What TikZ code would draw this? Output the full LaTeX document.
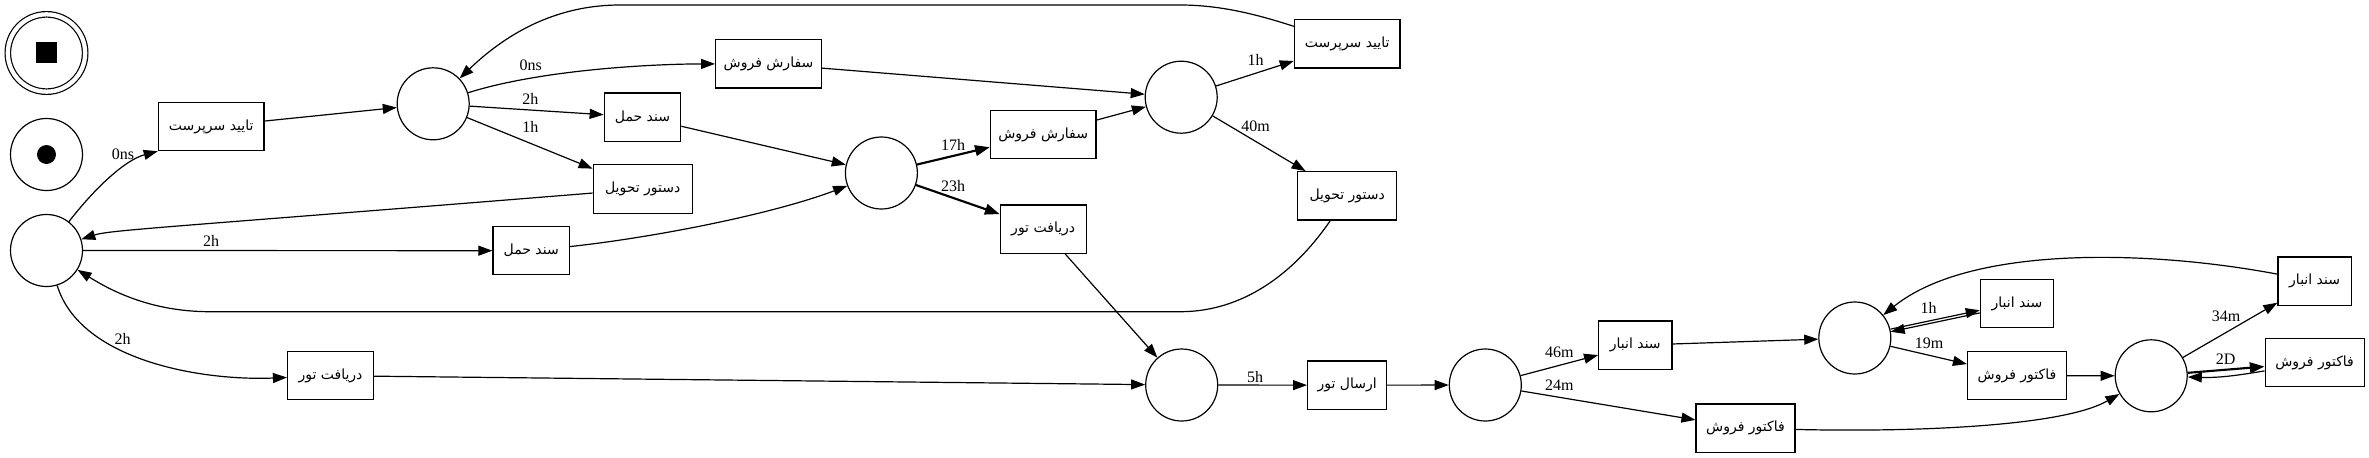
\documentclass[tikz,border=0pt]{standalone}
\usepackage{fontspec}
\setmainfont{Liberation Serif}
\newfontfamily\fa[Script=Arabic]{DejaVu Sans}
\TeXXeTstate=1
\usetikzlibrary{arrows.meta}
\newcommand\ptxt[1]{{\fa\fontsize{10.5pt}{12pt}\selectfont\beginR #1\endR}}
\begin{document}
\begin{tikzpicture}[x=0.75pt,y=-0.75pt,
  place/.style={circle, draw, line width=0.9pt, minimum size=54pt, inner sep=0pt},
  trans/.style={rectangle, draw, line width=0.9pt, minimum height=36.2pt, inner sep=0pt},
  arr/.style={-{Triangle[length=10.5pt,width=7.5pt]}, line width=0.9pt},
  heavy/.style={-{Triangle[length=11pt,width=8pt]}, line width=1.6pt},
  lbl/.style={font=\fontsize{12pt}{14pt}\selectfont, inner sep=0pt}]
\useasboundingbox (0,0) rectangle (2369,457);
\fill[white] (0,0) rectangle (2369,457);

% special places
\node[place, double, double distance=3.2pt, minimum size=58pt] (fin) at (46.5,53) {};
\node[fill, minimum size=15.75pt, inner sep=0pt] (finsq) at (46.5,52.5) {};
\node[place] (st) at (46.5,154.5) {};
\node[circle, fill, minimum size=14.25pt, inner sep=0pt] (stdot) at (46.5,154.5) {};

% places
\node[place] (p0) at (46.5,250.5) {};
\node[place] (p1) at (433.2,103.8) {};
\node[place] (p2) at (881.4,173) {};
\node[place] (p3) at (1181.2,97.2) {};
\node[place] (p4) at (1181.7,385) {};
\node[place] (p5) at (1485.3,385) {};
\node[place] (p6) at (1854.8,338) {};
\node[place] (p7) at (2151.2,375.8) {};

% transitions
\node[trans, minimum width=79.3pt] (t1) at (211.2,126.5) {\ptxt{تایید سرپرست}};
\node[trans, minimum width=79.3pt] (so1) at (768.5,63.8) {\ptxt{سفارش فروش}};
\node[trans, minimum width=57.4pt] (sh1) at (642.5,117.2) {\ptxt{سند حمل}};
\node[trans, minimum width=74.25pt] (dt1) at (642.7,189) {\ptxt{دستور تحویل}};
\node[trans, minimum width=57.4pt] (sh2) at (531.2,250.7) {\ptxt{سند حمل}};
\node[trans, minimum width=64.5pt] (rt1) at (330.5,375.7) {\ptxt{دریافت تور}};
\node[trans, minimum width=79.3pt] (so2) at (1043.2,134.5) {\ptxt{سفارش فروش}};
\node[trans, minimum width=64.5pt] (rt2) at (1043.2,229.2) {\ptxt{دریافت تور}};
\node[trans, minimum width=79.3pt] (t2) at (1347.2,43.8) {\ptxt{تایید سرپرست}};
\node[trans, minimum width=74.25pt] (dt2) at (1347.2,195.8) {\ptxt{دستور تحویل}};
\node[trans, minimum width=59.25pt] (at) at (1347.1,385.2) {\ptxt{ارسال تور}};
\node[trans, minimum width=55pt] (sa1) at (1635.3,345.2) {\ptxt{سند انبار}};
\node[trans, minimum width=74.25pt] (fa1) at (1745.5,428.2) {\ptxt{فاکتور فروش}};
\node[trans, minimum width=55pt] (sa2) at (2017,303.7) {\ptxt{سند انبار}};
\node[trans, minimum width=74.25pt] (fa2) at (2017,375.7) {\ptxt{فاکتور فروش}};
\node[trans, minimum width=55pt] (sa3) at (2314.6,281.2) {\ptxt{سند انبار}};
\node[trans, minimum width=74.25pt] (fa3) at (2314.6,362.5) {\ptxt{فاکتور فروش}};

% edges
\draw[arr] (p0) .. controls (95,188) and (125,160) .. (t1.south west);
\draw[arr] (t1) -- (p1);
\draw[arr] (p1) .. controls (540,70) and (650,64) .. (so1);
\draw[arr] (p1) -- (sh1);
\draw[arr] (p1) -- (dt1);
\draw[arr] (dt1) .. controls (160,228) and (110,230) .. (p0);
\draw[arr] (p0) -- (sh2);
\draw[arr] (sh2) .. controls (650,238) and (770,215) .. (p2);
\draw[arr] (sh1) -- (p2);
\draw[heavy] (p2) -- (so2);
\draw[heavy] (p2) -- (rt2);
\draw[arr] (so1) -- (p3);
\draw[arr] (so2) -- (p3);
\draw[arr] (p3) -- (t2);
\draw[arr] (p3) -- (dt2);
\draw[arr] (t2) .. controls (1250,12) and (1215,5) .. (1180,5) -- (620,5) .. controls (560,5) and (510,30) .. (p1);
\draw[arr] (dt2) .. controls (1300,265) and (1250,311.7) .. (1180,311.7) -- (210,311.7) .. controls (150,311.7) and (110,290) .. (p0);
\draw[arr] (rt2) -- (p4);
\draw[arr] (p0) .. controls (80,360) and (200,381) .. (rt1);
\draw[arr] (rt1) -- (p4);
\draw[arr] (p4) -- (at);
\draw[arr] (at) -- (p5);
\draw[arr] (p5) -- (sa1);
\draw[arr] (p5) -- (fa1);
\draw[arr] (sa1) -- (p6);
\draw[arr] (fa1) .. controls (1900,432) and (2060,428) .. (p7);
\draw[arr, transform canvas={yshift=1pt}] (p6) -- (sa2);
\draw[arr, transform canvas={yshift=-1pt}] (sa2) -- (p6);
\draw[arr] (p6) -- (fa2);
\draw[arr] (fa2) -- (p7);
\draw[arr] (p7) -- (sa3);
\draw[arr] (sa3) .. controls (2150,250) and (1970,245) .. (p6);
\draw[heavy] (p7) -- (fa3);
\draw[arr] (fa3) .. controls (2240,375) and (2220,378) .. (p7);

% labels
\node[lbl] (l1) at (123,153.8) {0ns};
\node[lbl] (l2) at (530.8,65) {0ns};
\node[lbl] (l3) at (530.4,98.8) {2h};
\node[lbl] (l4) at (530.4,126.5) {1h};
\node[lbl] (l5) at (211,241) {2h};
\node[lbl] (l6) at (122.5,338.5) {2h};
\node[lbl] (l7) at (953,145) {17h};
\node[lbl] (l8) at (953,186) {23h};
\node[lbl] (l9) at (1255.5,59.5) {1h};
\node[lbl] (l10) at (1255.5,126.3) {40m};
\node[lbl] (l11) at (1255,377) {5h};
\node[lbl] (l12) at (1559.3,352.5) {46m};
\node[lbl] (l13) at (1559.3,385) {24m};
\node[lbl] (l14) at (1928.5,307.5) {1h};
\node[lbl] (l15) at (1929,343) {19m};
\node[lbl] (l16) at (2226,316.7) {34m};
\node[lbl] (l17) at (2225.5,359) {2D};
\end{tikzpicture}
\end{document}
